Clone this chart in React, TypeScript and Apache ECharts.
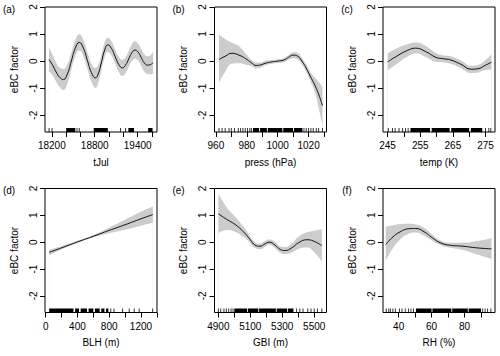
import React, { useEffect, useRef } from "react";
import * as echarts from "echarts";

const FONT = "'Liberation Sans', Arial, Helvetica, sans-serif";

// shared y axis
const yTicks = [-2, -1, 0, 1, 2];
const yMin = -2.62;
const yMax = 2.0;

// (a) tJul
const tJulX = [18160, 18210, 18260, 18310, 18363, 18418, 18473, 18529, 18584, 18640, 18697, 18753, 18810, 18853, 18897, 18940, 18983, 19034, 19085, 19135, 19186, 19230, 19275, 19319, 19363, 19407, 19450, 19494, 19537, 19577, 19616];
const tJulFit = [0.06, -0.14, -0.4, -0.6, -0.68, -0.47, 0.0, 0.48, 0.69, 0.49, 0.03, -0.42, -0.62, -0.44, -0.01, 0.42, 0.6, 0.47, 0.17, -0.12, -0.25, -0.15, 0.08, 0.31, 0.41, 0.33, 0.13, -0.07, -0.15, -0.13, -0.06];
const tJulUpper = [0.5, 0.24, -0.05, -0.24, -0.29, -0.12, 0.31, 0.78, 0.99, 0.79, 0.34, -0.09, -0.25, -0.11, 0.28, 0.7, 0.86, 0.73, 0.43, 0.16, 0.05, 0.14, 0.38, 0.62, 0.73, 0.64, 0.44, 0.25, 0.18, 0.23, 0.35];
const tJulLower = [-0.38, -0.52, -0.75, -0.96, -1.07, -0.82, -0.31, 0.18, 0.39, 0.19, -0.28, -0.75, -0.99, -0.77, -0.3, 0.14, 0.34, 0.21, -0.09, -0.4, -0.55, -0.44, -0.22, 0.0, 0.09, 0.02, -0.18, -0.39, -0.48, -0.49, -0.47];
const tJulTicks = [18200, 18400, 18600, 18800, 19000, 19200, 19400, 19600];
const tJulLabels = [18200, 18800, 19400];
const tJulRugTicks = [18162, 18204, 18552, 18584, 19160, 19231];
const tJulRugBlocks = [[18401, 18528], [18786, 18983], [19270, 19349], [19546, 19608]];

// (b) press (hPa)
const pressX = [962, 966, 970.4, 975, 979, 983, 986, 989, 992, 996, 1000, 1004, 1007, 1010, 1013, 1016, 1018, 1021, 1024, 1027, 1029];
const pressFit = [0.06, 0.18, 0.29, 0.22, 0.1, -0.06, -0.16, -0.14, -0.08, -0.03, 0.0, 0.04, 0.14, 0.22, 0.18, -0.03, -0.21, -0.55, -0.88, -1.3, -1.65];
const pressUpper = [0.98, 0.82, 0.68, 0.55, 0.3, 0.05, -0.05, -0.05, 0.01, 0.04, 0.07, 0.11, 0.23, 0.33, 0.3, 0.1, -0.08, -0.38, -0.6, -0.8, -0.95];
const pressLower = [-0.8, -0.4, -0.1, -0.08, -0.13, -0.18, -0.27, -0.24, -0.16, -0.1, -0.07, -0.03, 0.05, 0.11, 0.06, -0.15, -0.34, -0.72, -1.16, -1.85, -2.4];
const pressTicks = [960, 970, 980, 990, 1000, 1010, 1020, 1030];
const pressLabels = [960, 980, 1000, 1020];
const pressRugTicks = [962, 964, 966, 968.5, 970, 972, 974.5, 976, 977.5, 979, 980.5, 982, 983, 1017, 1018.5, 1020, 1021.5, 1023, 1025, 1026.5, 1029];
const pressRugBlocks = [[984, 988], [988.6, 993], [993.6, 1003], [1003.6, 1010], [1010.6, 1016]];

// (c) temp (K)
const tempX = [245, 247.9, 251, 253.6, 256.7, 259.8, 261.9, 264.4, 267.5, 270.6, 272.7, 275, 276.8];
const tempFit = [-0.03, 0.19, 0.39, 0.48, 0.35, 0.14, 0.09, 0.04, -0.12, -0.3, -0.28, -0.15, -0.04];
const tempUpper = [0.29, 0.48, 0.62, 0.69, 0.56, 0.3, 0.22, 0.18, 0.02, -0.17, -0.14, 0.04, 0.24];
const tempLower = [-0.34, -0.1, 0.16, 0.28, 0.15, -0.02, -0.04, -0.1, -0.26, -0.44, -0.42, -0.33, -0.32];
const tempTicks = [245, 250, 255, 260, 265, 270, 275];
const tempLabels = [245, 255, 265, 275];
const tempRugTicks = [245.2, 246.5, 247.3, 248.5, 249.6, 250.5, 251.3, 275, 276, 276.6];
const tempRugBlocks = [[252, 258], [258.5, 264], [264.5, 270], [270.5, 274]];

// (d) BLH (m)
const blhX = [43, 200, 400, 600, 800, 1000, 1200, 1350];
const blhFit = [-0.38, -0.21, 0.01, 0.22, 0.44, 0.65, 0.87, 1.03];
const blhUpper = [-0.28, -0.15, 0.05, 0.27, 0.55, 0.84, 1.13, 1.34];
const blhLower = [-0.48, -0.27, -0.03, 0.17, 0.33, 0.46, 0.61, 0.72];
const blhTicks = [0, 200, 400, 600, 800, 1000, 1200, 1400];
const blhLabels = [0, 400, 800, 1200];
const blhRugTicks = [820, 860, 968, 1052, 1115, 1178, 1347];
const blhRugBlocks = [[43, 350], [370, 420], [440, 520], [540, 600], [620, 680], [700, 740], [760, 790]];

// (e) GBI (m)
const gbiX = [4900, 4952, 5005, 5057, 5099, 5130, 5161, 5193, 5218, 5255, 5287, 5318, 5360, 5402, 5454, 5496, 5548];
const gbiFit = [1.06, 0.85, 0.66, 0.39, 0.1, -0.11, -0.15, -0.06, 0.0, -0.11, -0.27, -0.31, -0.21, -0.02, 0.09, 0.04, -0.13];
const gbiUpper = [1.81, 1.3, 0.95, 0.58, 0.22, 0.0, -0.05, 0.05, 0.1, 0.02, -0.15, -0.18, -0.05, 0.2, 0.37, 0.42, 0.48];
const gbiLower = [0.33, 0.45, 0.38, 0.2, -0.03, -0.22, -0.26, -0.17, -0.1, -0.23, -0.39, -0.44, -0.38, -0.25, -0.2, -0.35, -0.73];
const gbiTicks = [4900, 5000, 5100, 5200, 5300, 5400, 5500];
const gbiLabels = [4900, 5100, 5300, 5500];
const gbiRugTicks = [4900, 4915, 4935, 4950, 4965, 4980, 4992, 5390, 5410, 5430, 5460, 5480, 5500, 5520, 5548];
const gbiRugBlocks = [[5000, 5080], [5085, 5150], [5155, 5260], [5265, 5330], [5335, 5370]];

// (f) RH (%)
const rhX = [32.2, 35.9, 41, 46.2, 50.3, 55.4, 60.5, 65.6, 70.8, 79, 87.2, 96.4];
const rhFit = [-0.09, 0.16, 0.39, 0.5, 0.51, 0.39, 0.16, -0.03, -0.11, -0.15, -0.21, -0.25];
const rhUpper = [0.58, 0.62, 0.68, 0.69, 0.66, 0.54, 0.28, 0.06, -0.02, -0.02, 0.04, 0.16];
const rhLower = [-0.7, -0.28, 0.1, 0.31, 0.36, 0.24, 0.05, -0.11, -0.2, -0.29, -0.45, -0.62];
const rhTicks = [40, 50, 60, 70, 80, 90];
const rhLabels = [40, 60, 80];
const rhRugTicks = [32.5, 34, 35, 36.5, 38, 40.5, 42, 44, 46, 47.5, 49, 91, 92.5, 94, 96];
const rhRugBlocks = [[50.5, 60], [60.5, 72], [72.5, 82], [82.5, 90]];

type Panel = {
  tag: string;
  name: string;
  x: number[];
  fit: number[];
  upper: number[];
  lower: number[];
  ticks: number[];
  labels: number[];
  rugTicks: number[];
  rugBlocks: number[][];
  min: number;
  max: number;
  left: number;
  top: number;
  width: number;
  height: number;
};

const COLS = [45, 214.5, 383];
const ROWS = [{ top: 7, height: 125 }, { top: 188.5, height: 124 }];
const W = 112;

const panels: Panel[] = [
  { tag: "(a)", name: "tJul", x: tJulX, fit: tJulFit, upper: tJulUpper, lower: tJulLower, ticks: tJulTicks, labels: tJulLabels, rugTicks: tJulRugTicks, rugBlocks: tJulRugBlocks, min: 18105, max: 19670, left: COLS[0], top: ROWS[0].top, width: W, height: ROWS[0].height },
  { tag: "(b)", name: "press (hPa)", x: pressX, fit: pressFit, upper: pressUpper, lower: pressLower, ticks: pressTicks, labels: pressLabels, rugTicks: pressRugTicks, rugBlocks: pressRugBlocks, min: 959.1, max: 1031.6, left: COLS[1], top: ROWS[0].top, width: W, height: ROWS[0].height },
  { tag: "(c)", name: "temp (K)", x: tempX, fit: tempFit, upper: tempUpper, lower: tempLower, ticks: tempTicks, labels: tempLabels, rugTicks: tempRugTicks, rugBlocks: tempRugBlocks, min: 243.6, max: 277.9, left: COLS[2], top: ROWS[0].top, width: W, height: ROWS[0].height },
  { tag: "(d)", name: "BLH (m)", x: blhX, fit: blhFit, upper: blhUpper, lower: blhLower, ticks: blhTicks, labels: blhLabels, rugTicks: blhRugTicks, rugBlocks: blhRugBlocks, min: -9, max: 1402, left: COLS[0], top: ROWS[1].top, width: W, height: ROWS[1].height },
  { tag: "(e)", name: "GBI (m)", x: gbiX, fit: gbiFit, upper: gbiUpper, lower: gbiLower, ticks: gbiTicks, labels: gbiLabels, rugTicks: gbiRugTicks, rugBlocks: gbiRugBlocks, min: 4876, max: 5577, left: COLS[1], top: ROWS[1].top, width: W, height: ROWS[1].height },
  { tag: "(f)", name: "RH (%)", x: rhX, fit: rhFit, upper: rhUpper, lower: rhLower, ticks: rhTicks, labels: rhLabels, rugTicks: rhRugTicks, rugBlocks: rhRugBlocks, min: 30.5, max: 98.5, left: COLS[2], top: ROWS[1].top, width: W, height: ROWS[1].height },
];

function buildOption() {
  const grid: any[] = [];
  const xAxis: any[] = [];
  const yAxis: any[] = [];
  const series: any[] = [];
  const graphic: any[] = [];

  panels.forEach((p, i) => {
    grid.push({
      left: p.left,
      top: p.top,
      width: p.width,
      height: p.height,
      show: false,
      containLabel: false,
    });
    xAxis.push({
      type: "value",
      gridIndex: i,
      position: "bottom",
      min: p.min,
      max: p.max,
      name: p.name,
      nameLocation: "middle",
      nameGap: 25,
      nameTextStyle: { fontSize: 10, color: "#000", fontFamily: FONT },
      axisLine: { show: false, onZero: false },
      axisTick: { show: true, inside: false, length: 5, customValues: p.ticks, lineStyle: { color: "#000", width: 1 } },
      axisLabel: {
        show: true,
        customValues: p.labels,
        margin: 8.5,
        fontSize: 10,
        color: "#000",
        fontFamily: FONT,
        formatter: (v: number) => String(v),
      },
      splitLine: { show: false },
    });
    yAxis.push({
      type: "value",
      gridIndex: i,
      position: "left",
      min: yMin,
      max: yMax,
      name: "eBC factor",
      nameLocation: "middle",
      nameGap: 26,
      nameTextStyle: { fontSize: 10, color: "#000", fontFamily: FONT },
      axisLine: { show: false, onZero: false },
      axisTick: { show: true, inside: false, length: 5, customValues: yTicks, lineStyle: { color: "#000", width: 1 } },
      axisLabel: {
        show: true,
        customValues: yTicks,
        rotate: 90,
        margin: 7,
        fontSize: 10,
        color: "#000",
        fontFamily: FONT,
        formatter: (v: number) => String(v),
      },
      splitLine: { show: false },
    });
    // confidence band: grey area under the upper bound, masked in white under the lower bound
    series.push({
      type: "line",
      xAxisIndex: i,
      yAxisIndex: i,
      data: p.x.map((v, k) => [v, p.upper[k]]),
      smooth: true,
      symbol: "none",
      silent: true,
      lineStyle: { opacity: 0 },
      areaStyle: { color: "#cccccc", opacity: 1, origin: "start" },
      z: 2,
    });
    series.push({
      type: "line",
      xAxisIndex: i,
      yAxisIndex: i,
      data: p.x.map((v, k) => [v, p.lower[k]]),
      smooth: true,
      symbol: "none",
      silent: true,
      lineStyle: { opacity: 0 },
      areaStyle: { color: "#ffffff", opacity: 1, origin: "start" },
      z: 3,
    });
    // fitted smooth
    series.push({
      type: "line",
      xAxisIndex: i,
      yAxisIndex: i,
      data: p.x.map((v, k) => [v, p.fit[k]]),
      smooth: true,
      symbol: "none",
      silent: true,
      lineStyle: { color: "#111", width: 1 },
      z: 5,
    });
    // rug
    const rugData = [
      ...p.rugBlocks.map((b) => [b[0], b[1]]),
      ...p.rugTicks.map((t) => [t, t]),
    ];
    series.push({
      type: "custom",
      xAxisIndex: i,
      yAxisIndex: i,
      data: rugData,
      encode: { x: [0, 1] },
      silent: true,
      z: 6,
      renderItem: (params: any, api: any) => {
        const x0 = api.value(0);
        const x1 = api.value(1);
        const p0 = api.coord([x0, yMin]);
        const p1 = api.coord([x1, yMin]);
        const h = 4;
        if (x1 > x0) {
          return {
            type: "rect",
            shape: { x: p0[0], y: p0[1] - h, width: Math.max(p1[0] - p0[0], 0.8), height: h },
            style: { fill: "#000" },
          };
        }
        return {
          type: "line",
          shape: { x1: p0[0], y1: p0[1], x2: p0[0], y2: p0[1] - h },
          style: { stroke: "#000", lineWidth: 0.8 },
        };
      },
    });
    // plot box
    graphic.push({
      type: "rect",
      z: 100,
      shape: { x: p.left, y: p.top, width: p.width, height: p.height },
      style: { fill: "none", stroke: "#000", lineWidth: 1 },
      silent: true,
    });
    graphic.push({
      type: "text",
      z: 100,
      x: p.left - 36,
      y: p.top + 2,
      style: {
        text: p.tag,
        fontSize: 10,
        fontFamily: FONT,
        fill: "#000",
        align: "center",
        textAlign: "center",
        verticalAlign: "middle",
      },
    });
  });

  return { animation: false, grid, xAxis, yAxis, series, graphic };
}

export default function App() {
  const ref = useRef<HTMLDivElement>(null);
  useEffect(() => {
    if (!ref.current) return;
    const chart = echarts.init(ref.current, undefined, { renderer: "svg" });
    chart.setOption(buildOption() as any);
    return () => chart.dispose();
  }, []);
  return (
    <div
      ref={ref}
      style={{ position: "absolute", left: 0, top: 0, width: 500, height: 356, background: "#fff" }}
    />
  );
}
